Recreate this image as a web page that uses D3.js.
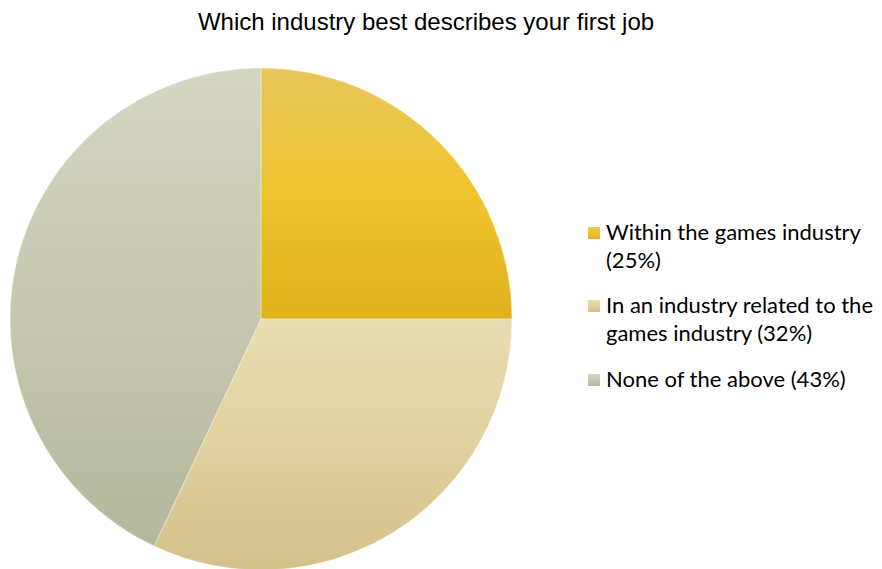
<!DOCTYPE html>
<html>
<head>
<meta charset="utf-8">
<script src="https://cdn.jsdelivr.net/npm/d3@7"></script>
<style>
  html, body { margin: 0; padding: 0; background: #ffffff; }
  svg { display: block; }
</style>
</head>
<body>
<svg id="chart" width="882" height="569"></svg>
<script>
// Survey answers, in drawing order (clockwise from 12 o'clock)
const categories = [
  "Within the games industry",
  "In an industry related to the games industry",
  "None of the above"
];
const values = [25, 32, 43];
const legendLines = [
  ["Within the games industry", "(25%)"],
  ["In an industry related to the", "games industry (32%)"],
  ["None of the above (43%)"]
];
// Vertical gradient stops per slice: top, middle, bottom
const sliceColors = [
  ["#e8c65c", "#f0c42c", "#dfb11a"],
  ["#eadcb3", "#e2d19e", "#d3c089"],
  ["#d4d6c2", "#c6c8b0", "#b4b89c"]
];
const titleText = "Which industry best describes your first job";

const svg = d3.select("#chart");
const cx = 261, cy = 319, radius = 251;

const defs = svg.append("defs");
sliceColors.forEach((c, i) => {
  const g = defs.append("linearGradient")
    .attr("id", "grad" + i)
    .attr("x1", 0).attr("y1", 0).attr("x2", 0).attr("y2", 1);
  g.append("stop").attr("offset", "0%").attr("stop-color", c[0]);
  g.append("stop").attr("offset", "50%").attr("stop-color", c[1]);
  g.append("stop").attr("offset", "100%").attr("stop-color", c[2]);
});

const pie = d3.pie().sort(null).value(d => d)(values);
const arc = d3.arc().innerRadius(0).outerRadius(radius);

svg.append("g")
  .attr("transform", `translate(${cx},${cy})`)
  .selectAll("path")
  .data(pie)
  .join("path")
  .attr("d", arc)
  .attr("fill", (d, i) => `url(#grad${i})`)
  .attr("stroke", "#ffffff")
  .attr("stroke-width", 0.6)
  .attr("stroke-opacity", 0.6);

svg.append("text")
  .attr("x", 426)
  .attr("y", 30)
  .attr("text-anchor", "middle")
  .style("font-family", "'Liberation Sans', Arial, sans-serif")
  .attr("font-size", 24)
  .attr("fill", "#000")
  .text(titleText);

// Legend
const legendX = 588;
const legendTops = [240, 313, 387];
const lineHeight = 28;
const legend = svg.append("g");
legendLines.forEach((lines, i) => {
  const y0 = legendTops[i];
  legend.append("rect")
    .attr("x", legendX)
    .attr("y", y0 - 13)
    .attr("width", 12)
    .attr("height", 12)
    .attr("fill", `url(#grad${i})`);
  const t = legend.append("text")
    .style("font-family", "Lato, 'Open Sans', sans-serif")
    .attr("font-size", 22)
    .attr("fill", "#000");
  lines.forEach((ln, j) => {
    t.append("tspan")
      .attr("x", legendX + 18)
      .attr("y", y0 + j * lineHeight)
      .text(ln);
  });
});
</script>
</body>
</html>
